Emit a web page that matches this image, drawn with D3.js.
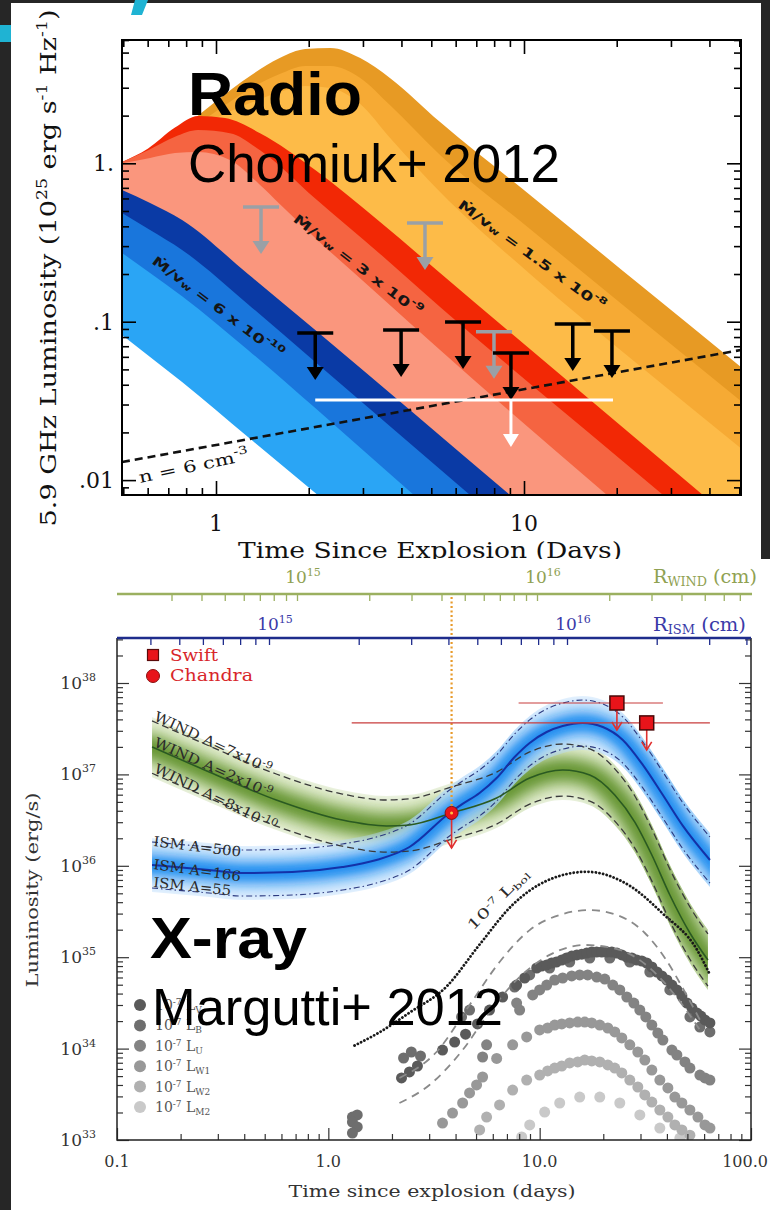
<!DOCTYPE html>
<html>
<head>
<meta charset="utf-8">
<script src="https://cdn.jsdelivr.net/npm/d3@7/dist/d3.min.js"></script>
<style>
html,body{margin:0;padding:0;background:#262626;overflow:hidden;}
svg{display:block;}
</style>
</head>
<body>
<svg id="chart" width="770" height="1210" xmlns="http://www.w3.org/2000/svg"></svg>
<script>
// ======================= DATA =======================
// ---- Radio panel (Chomiuk+ 2012): band boundary curves [days, 1e25 erg/s/Hz]
const radioOrange1 = [[0.495,0.844],[0.764,1.62],[0.993,2.44],[1.29,3.56],[1.61,4.62],[1.95,5.27],[2.35,5.35],[2.94,4.62],[3.67,3.46],[5.34,1.82],[10.46,0.631],[23.8,0.171],[50.6,0.0518]];
const radioOrange2 = [[0.495,0.785],[0.764,1.47],[0.993,2.11],[1.29,2.95],[1.61,3.66],[1.95,4.12],[2.35,4.12],[2.94,3.46],[3.67,2.33],[5.34,1.13],[10.46,0.385],[23.8,0.104],[50.6,0.0316]];
const radioOrange3 = [[0.495,0.730],[0.764,1.36],[0.993,1.91],[1.29,2.40],[1.61,2.82],[1.95,3.08],[2.35,2.99],[2.94,2.37],[3.67,1.45],[5.34,0.659],[10.46,0.200],[23.8,0.0525],[50.6,0.0159]];
const radioRed1 = [[0.495,1.02],[0.602,1.24],[0.736,1.68],[0.874,1.99],[1.07,1.93],[1.39,1.55],[2.10,0.907],[3.41,0.426],[5.34,0.203],[38.1,0.00805],[50.6,0.00506]];
const radioRed2 = [[0.495,1.02],[0.602,1.21],[0.736,1.47],[0.874,1.62],[1.11,1.55],[1.39,1.21],[2.10,0.599],[3.41,0.268],[5.34,0.124],[28.3,0.00805],[50.6,0.00309]];
const radioRed3 = [[0.495,1.00],[0.611,1.08],[0.736,1.16],[0.874,1.18],[1.11,1.05],[1.39,0.730],[1.61,0.554],[2.10,0.338],[3.41,0.145],[5.34,0.0663],[18.6,0.00805],[50.6,0.00156]];
const radioBlue1 = [[0.495,0.678],[0.611,0.562],[0.776,0.439],[1.27,0.200],[2.10,0.0886],[9.01,0.00805],[50.6,0.000473]];
const radioBlue2 = [[0.495,0.486],[0.611,0.379],[0.776,0.284],[1.27,0.129],[2.10,0.0557],[6.68,0.00805],[50.6,0.000289]];
const radioBlue3 = [[0.495,0.272],[0.611,0.203],[0.776,0.145],[1.27,0.0663],[2.10,0.0285],[4.39,0.00805],[50.6,0.000146]];
const radioBlueBase = [[0.495,0.0824],[0.611,0.0598],[0.776,0.0416],[1.27,0.0187],[2.14,0.00805],[50.6,0.0000442]];
const radioColors = ["#e79a24","#f6aa34","#fdbb48","#f22805","#f56441","#fa967d","#0a3aa5","#1976dc","#2aa5f5","#ffffff"];
const radioDensityLine = [[0.495,0.0130],[50.6,0.0663]];
const radioLimitsBlack = [[2.10,0.0849],[3.99,0.0887],[6.34,0.0996],[9.07,0.0634],[14.4,0.0966],[19.3,0.0873]];
const radioLimitsGray = [[1.40,0.530],[4.77,0.420],[7.99,0.0863]];
const radioStackRange = [2.10,19.45];
const radioStackPoint = [9.07,0.032];
const radioYTicks = [1,0.1,0.01];
const radioYTickLabels = ["1.",".1",".01"];
const radioXTicks = [1,10];
const radioXTickLabels = ["1","10"];

// ---- X-ray panel (Margutti+ 2012) [days, erg/s]
const windTimes  = [0.1465,0.273,0.567,1.165,1.883,2.421,3.828,6.256,8.966,12.85,17.26,22.67,28.20,33.95,41.31,51.39,62.55];
const windCenter = [1.995e37,1.062e37,5.25e36,3.17e36,2.73e36,2.80e36,3.78e36,5.52e36,9.13e36,1.117e37,9.85e36,5.95e36,3.01e36,1.313e36,4.79e35,1.84e35,9.32e34];
const windUpper  = [3.85e37,2.05e37,1.01e37,6.1e36,5.25e36,5.4e36,7.3e36,1.06e37,1.76e37,2.15e37,1.9e37,1.15e37,5.8e36,2.53e36,9.2e35,3.55e35,1.8e35];
const windLower  = [1.03e37,5.5e36,2.72e36,1.64e36,1.41e36,1.45e36,1.96e36,2.86e36,4.73e36,5.79e36,5.1e36,3.08e36,1.56e36,6.8e35,2.48e35,9.5e34,4.83e34];
const ismTimes  = [0.1465,0.2729,0.3914,0.6753,1.165,1.689,2.421,3.746,4.316,5.195,6.256,7.611,8.966,10.79,12.85,15.99,19.89,24.74,30.77,38.28,47.62,63.93];
const ismCenter = [1.02e36,8.99e35,8.34e35,8.55e35,9.70e35,1.157e36,1.606e36,3.78e36,4.75e36,6.26e36,9.13e36,1.55e37,2.21e37,2.91e37,3.38e37,3.65e37,3.30e37,2.38e37,1.27e37,5.95e36,2.73e36,1.157e36];
const ismUpper  = [1.821e36,1.605e36,1.489e36,1.526e36,1.731e36,2.065e36,2.867e36,6.747e36,8.479e36,1.117e37,1.630e37,2.767e37,3.945e37,5.194e37,6.033e37,6.515e37,5.891e37,4.248e37,2.267e37,1.062e37,4.873e36,2.065e36];
const ismLower  = [5.71e35,5.04e35,4.67e35,4.79e35,5.43e35,6.48e35,9.0e35,2.12e36,2.66e36,3.51e36,5.11e36,8.68e36,1.24e37,1.63e37,1.89e37,2.04e37,1.85e37,1.33e37,7.11e36,3.33e36,1.53e36,6.48e35];
const lbolCurve = [[1.33,1.08e34],[1.74,1.50e34],[2.42,2.47e34],[3.62,4.76e34],[5.19,1.37e35],[7.45,3.75e35],[10.8,6.86e35],[16.7,8.6e35],[26.7,6.04e35],[38.3,2.99e35],[55.5,1.21e35],[63.9,6.44e34]];
const modelDashUpper = [[2.17,4.77e33],[3.25,9.18e33],[4.66,3.0e34],[6.46,8.86e34],[8.97,1.98e35],[12.44,2.90e35],[17.26,3.28e35],[23.94,2.82e35],[31.45,1.84e35],[39.12,9.8e34],[48.67,4.16e34],[57.33,2.06e34]];
const modelDashLower = [[2.17,2.54e33],[3.01,4.0e33],[4.32,9.65e33],[5.79,2.51e34],[8.04,6.07e34],[11.15,1.06e35],[16.34,1.36e35],[23.94,1.20e35],[33.2,7.62e34],[43.6,3.86e34],[57.33,1.60e34]];
const dotsV = [[2.22,4.77e33],[2.42,5.55e33],[2.64,6.45e33],[3.47,9.65e33],[3.96,1.18e34],[4.46,1.44e34],[5.08,1.86e34],[5.79,2.64e34],[6.68,3.67e34],[7.78,4.96e34],[8.49,5.92e34],[9.68,7.62e34],[10.22,8.01e34],[10.8,8.22e34],[11.4,8.64e34],[12.0,8.86e34],[12.72,9.32e34],[13.4,9.8e34],[14.18,1.03e35],[15.0,1.06e35],[15.82,1.08e35],[16.7,1.11e35],[17.64,1.14e35],[18.6,1.14e35],[19.67,1.14e35],[20.8,1.14e35],[21.94,1.14e35],[23.2,1.11e35],[24.47,1.06e35],[25.8,1.0e35],[27.29,9.8e34],[28.8,9.32e34],[30.44,9.09e34],[32.1,8.64e34],[33.95,7.81e34],[35.9,6.89e34],[37.86,6.23e34],[40.0,5.63e34],[42.23,4.96e34],[44.6,4.38e34],[47.1,3.76e34],[49.8,3.15e34],[52.54,2.78e34],[55.5,2.45e34],[57.94,2.27e34],[60.5,2.06e34],[63.9,1.91e34]];
const dotsB = [[1.30,1.78e33],[1.37,1.88e33],[1.30,1.57e33],[1.37,1.39e33],[1.30,1.19e33],[2.27,7.89e33],[2.47,9.18e33],[2.73,8.30e33],[4.27,2.22e34],[4.66,2.64e34],[7.61,4.72e34],[8.97,6.39e34],[11.15,7.62e34],[13.87,8.86e34],[17.26,9.8e34],[21.47,9.8e34],[26.7,8.86e34],[33.2,6.89e34],[41.3,4.38e34],[51.4,2.22e34],[57.3,1.72e34],[63.9,1.52e34]];
const dotsU = [[5.37,8.09e33],[5.61,1.10e34],[7.78,3.15e34],[8.04,2.64e34],[9.27,3.86e34],[10.0,4.38e34],[10.8,4.96e34],[11.78,5.63e34],[12.85,5.92e34],[14.18,6.23e34],[15.47,6.39e34],[16.88,6.39e34],[18.63,6.07e34],[20.33,5.77e34],[22.18,4.96e34],[23.94,4.38e34],[25.84,3.67e34],[27.9,3.15e34],[29.78,2.64e34],[31.79,2.22e34],[33.95,1.81e34],[36.24,1.48e34],[38.28,1.24e34],[42.23,9.65e33],[44.6,8.51e33],[48.67,7.14e33],[51.4,6.13e33],[57.3,5.14e33],[60.53,4.77e33],[63.9,4.53e33]];
const dotsW1 = [[3.47,1.53e33],[3.87,1.97e33],[4.32,2.54e33],[4.66,3.27e33],[5.03,4.0e33],[5.37,4.89e33],[6.26,7.8e33],[7.45,1.10e34],[8.68,1.34e34],[10.0,1.60e34],[10.91,1.68e34],[11.78,1.81e34],[12.72,1.86e34],[13.87,1.91e34],[15.14,1.95e34],[16.34,1.95e34],[17.64,1.91e34],[19.25,1.81e34],[21.01,1.68e34],[22.67,1.52e34],[24.47,1.31e34],[26.7,1.10e34],[29.14,9.18e33],[31.45,7.5e33],[33.95,5.83e33],[37.04,4.53e33],[40.43,3.71e33],[43.63,2.95e33],[47.1,2.54e33],[51.39,2.13e33],[56.08,1.78e33],[60.53,1.46e33],[63.93,1.35e33]];
const dotsW2 = [[5.20,1.29e33],[5.61,1.78e33],[6.46,2.42e33],[7.45,3.52e33],[8.68,4.53e33],[10.0,5.14e33],[10.91,5.69e33],[11.78,6.13e33],[12.72,6.45e33],[13.87,6.96e33],[15.14,7.14e33],[16.34,7.5e33],[17.64,7.32e33],[19.25,7.14e33],[21.01,6.62e33],[22.67,6.13e33],[24.47,5.41e33],[26.7,4.53e33],[29.14,3.80e33],[31.45,3.11e33],[33.95,2.60e33],[37.04,2.13e33],[40.43,1.78e33],[43.63,1.46e33],[47.1,1.29e33],[51.39,1.13e33]];
const dotsM2 = [[8.22,1.08e33],[8.97,1.46e33],[10.56,2.02e33],[12.44,2.54e33],[15.47,2.95e33],[19.25,2.95e33],[23.94,2.54e33],[29.78,1.88e33],[37.04,1.35e33],[46.08,1.05e33]];
const bandNames = ["V","B","U","W1","W2","M2"];
const bandColors = ["#5a5a5a","#6e6e6e","#838383","#989898","#b0b0b0","#c9c9c9"];
const swiftT = [23.2,32.1];
const swiftL = [6.04e37,3.66e37];
const swiftTRange = [[7.95,38.3],[1.29,63.9]];
const chandraT = [3.83];
const chandraL = [3.79e36];
const xrayYTicks = [1e33,1e34,1e35,1e36,1e37,1e38];
const xrayXTicks = [0.1,1,10,100];
const xrayXTickLabels = ["0.1","1.0","10.0","100.0"];
const radiusTicks = [1e15,1e16];

// ======================= HELPERS =======================
const W = 770, H = 1210;
const SERIF = "'DejaVu Serif','Liberation Serif',serif";
const SANS = "'Liberation Sans',Arial,'DejaVu Sans',sans-serif";
const svg = d3.select('#chart');
const defs = svg.append('defs');

function logTicks(lo, hi) {
  const out = [];
  for (let e = Math.floor(Math.log10(lo)) - 1; e <= Math.ceil(Math.log10(hi)); e++) {
    for (let k = 1; k < 10; k++) {
      const v = +(k * Math.pow(10, e)).toPrecision(6);
      if (v >= lo * 0.9999 && v <= hi * 1.0001) out.push(v);
    }
  }
  return out;
}
const isDecade = v => Math.abs(Math.log10(v) - Math.round(Math.log10(v))) < 1e-6;

function tickAxis(parent, gen, scale, vals, size, tx, ty, color, width) {
  const a = parent.append('g').attr('transform', `translate(${tx},${ty})`)
    .call(gen(scale).tickValues(vals).tickSize(size).tickSizeOuter(0).tickFormat(() => ''));
  a.select('.domain').remove();
  a.selectAll('.tick text').remove();
  a.selectAll('.tick line').attr('stroke', color).attr('stroke-width', width);
  return a;
}

function rich(parent, parts, o) {
  const t = parent.append('text')
    .attr('font-family', o.family || SERIF)
    .attr('font-size', o.size)
    .attr('fill', o.fill || '#000');
  if (o.weight) t.attr('font-weight', o.weight);
  if (o.anchor) t.attr('text-anchor', o.anchor);
  if (o.transform) t.attr('transform', o.transform); else t.attr('x', o.x).attr('y', o.y);
  if (o.len) t.attr('textLength', o.len).attr('lengthAdjust', 'spacingAndGlyphs');
  if (o.baseline) t.attr('dominant-baseline', o.baseline);
  let cur = 0;
  parts.forEach(p => {
    const off = p[1] || 0;
    const ts = t.append('tspan').text(p[0]);
    if (off !== cur) ts.attr('dy', off - cur);
    if (p[2]) ts.attr('font-size', p[2]);
    cur = off;
  });
  return t;
}

function addBlur(id, sd) {
  defs.append('filter').attr('id', id).attr('filterUnits', 'userSpaceOnUse')
    .attr('x', 0).attr('y', 0).attr('width', W).attr('height', H)
    .append('feGaussianBlur').attr('stdDeviation', sd);
}
addBlur('blur5', 5); addBlur('blur6', 6); addBlur('blur7', 7); addBlur('blur9', 9); addBlur('blur10', 10);

// ======================= BACKGROUND =======================
svg.append('rect').attr('width', W).attr('height', H).attr('fill', '#262626');
svg.append('rect').attr('x', 11).attr('y', 3).attr('width', 750).attr('height', 560).attr('fill', '#ffffff');
svg.append('rect').attr('x', 0).attr('y', 25).attr('width', 11).attr('height', 17).attr('fill', '#1fb3d3');
svg.append('path').attr('d', 'M135,0L148,0L142,15L131,15Z').attr('fill', '#1fb3d3');

// ======================= RADIO =======================
const R = {l: 122, t: 40, r: 741, b: 495};
const xR = d3.scaleLog().domain([1, 10]).range([216, 524]);
const yR = d3.scaleLog().domain([1, 0.1]).range([163.3, 321.7]);
defs.append('clipPath').attr('id', 'clipR').append('rect')
  .attr('x', R.l).attr('y', R.t).attr('width', R.r - R.l).attr('height', R.b - R.t);
const gR = svg.append('g');
const gRc = gR.append('g').attr('clip-path', 'url(#clipR)');
const radioCurves = [radioOrange1, radioOrange2, radioOrange3, radioRed1, radioRed2, radioRed3, radioBlue1, radioBlue2, radioBlue3, radioBlueBase];
const radioArea = d3.area().x(d => xR(d[0])).y0(R.b).y1(d => yR(d[1])).curve(d3.curveMonotoneX);
radioCurves.forEach((c, i) => gRc.append('path').attr('d', radioArea(c)).attr('fill', radioColors[i]));

gRc.append('path')
  .attr('d', d3.line().x(d => xR(d[0])).y(d => yR(d[1]))(radioDensityLine))
  .attr('fill', 'none').attr('stroke', '#111').attr('stroke-width', 2.6).attr('stroke-dasharray', '8,5');

function limitArrow(g, x, y, color, len, w) {
  g.append('line').attr('x1', x - 18).attr('x2', x + 18).attr('y1', y).attr('y2', y)
    .attr('stroke', color).attr('stroke-width', w);
  g.append('line').attr('x1', x).attr('x2', x).attr('y1', y).attr('y2', y + len - 11)
    .attr('stroke', color).attr('stroke-width', w);
  g.append('path').attr('d', `M${x - 8.5},${y + len - 13}L${x + 8.5},${y + len - 13}L${x},${y + len}Z`).attr('fill', color);
}
radioLimitsGray.forEach(d => limitArrow(gR, xR(d[0]), yR(d[1]), '#9aa0a6', 47, 3.5));
radioLimitsBlack.forEach(d => limitArrow(gR, xR(d[0]), yR(d[1]), '#000', 47, 3.5));
{
  const ys = yR(radioStackPoint[1]), xs = xR(radioStackPoint[0]);
  gR.append('line').attr('x1', xR(radioStackRange[0])).attr('x2', xR(radioStackRange[1]))
    .attr('y1', ys).attr('y2', ys).attr('stroke', '#fff').attr('stroke-width', 3);
  gR.append('line').attr('x1', xs).attr('x2', xs).attr('y1', ys).attr('y2', ys + 36)
    .attr('stroke', '#fff').attr('stroke-width', 3);
  gR.append('path').attr('d', `M${xs - 8},${ys + 34}L${xs + 8},${ys + 34}L${xs},${ys + 47}Z`).attr('fill', '#fff');
}

const mdotOpts = {family: "'DejaVu Sans',sans-serif", size: 13, weight: 'bold', fill: '#151515', anchor: 'middle', baseline: 'central'};
rich(gR, [["Ṁ/v"], ["w", 3, 9], [" = 6 x 10", 0], ["-10", -5, 9]], Object.assign({}, mdotOpts, {transform: 'translate(218,307) rotate(37)', len: 160}));
rich(gR, [["Ṁ/v"], ["w", 3, 9], [" = 3 x 10", 0], ["-9", -5, 9]], Object.assign({}, mdotOpts, {transform: 'translate(358,265) rotate(37.5)', len: 158}));
rich(gR, [["Ṁ/v"], ["w", 3, 9], [" = 1.5 x 10", 0], ["-8", -5, 9]], Object.assign({}, mdotOpts, {transform: 'translate(532,255) rotate(36)', len: 178}));
rich(gR, [["n = 6 cm"], ["-3", -7, 11]], {size: 16, fill: '#111', transform: 'translate(140,483) rotate(-12)', len: 112});

const rY = logTicks(yR.invert(R.b), yR.invert(R.t));
const rX = logTicks(xR.invert(R.l), xR.invert(R.r));
const rYmaj = rY.filter(isDecade), rYmin = rY.filter(v => !isDecade(v));
const rXmaj = rX.filter(isDecade), rXmin = rX.filter(v => !isDecade(v));
tickAxis(gR, d3.axisLeft, yR, rYmin, -7, R.l, 0, '#000', 1.6);
tickAxis(gR, d3.axisLeft, yR, rYmaj, -14, R.l, 0, '#000', 1.6);
tickAxis(gR, d3.axisRight, yR, rYmin, -7, R.r, 0, '#000', 1.6);
tickAxis(gR, d3.axisRight, yR, rYmaj, -14, R.r, 0, '#000', 1.6);
tickAxis(gR, d3.axisBottom, xR, rXmin, -7, 0, R.b, '#000', 1.6);
tickAxis(gR, d3.axisBottom, xR, rXmaj, -14, 0, R.b, '#000', 1.6);
tickAxis(gR, d3.axisTop, xR, rXmin, -7, 0, R.t, '#000', 1.6);
tickAxis(gR, d3.axisTop, xR, rXmaj, -14, 0, R.t, '#000', 1.6);
gR.append('rect').attr('x', R.l).attr('y', R.t).attr('width', R.r - R.l).attr('height', R.b - R.t)
  .attr('fill', 'none').attr('stroke', '#000').attr('stroke-width', 2);

radioYTicks.forEach((v, i) => gR.append('text').attr('x', 114).attr('y', yR(v) + 8)
  .attr('text-anchor', 'end').attr('font-family', SERIF).attr('font-size', 22).attr('fill', '#111').text(radioYTickLabels[i]));
radioXTicks.forEach((v, i) => gR.append('text').attr('x', xR(v)).attr('y', 531)
  .attr('text-anchor', 'middle').attr('font-family', SERIF).attr('font-size', 22).attr('fill', '#111').text(radioXTickLabels[i]));
rich(gR, [["5.9 GHz Luminosity (10"], ["25", -9, 14], [" erg s", 0], ["-1", -9, 14], [" Hz", 0], ["-1", -9, 14], [")", 0]],
  {size: 22, fill: '#111', anchor: 'middle', transform: 'translate(56,268) rotate(-90)', len: 517});
gR.append('text').attr('x', 430).attr('y', 558).attr('text-anchor', 'middle').attr('font-family', SERIF)
  .attr('font-size', 22).attr('fill', '#111').attr('textLength', 384).attr('lengthAdjust', 'spacingAndGlyphs')
  .text('Time Since Explosion (Days)');

gR.append('text').attr('x', 188).attr('y', 115).attr('font-family', SANS).attr('font-weight', 'bold')
  .attr('font-size', 61).attr('textLength', 174).attr('lengthAdjust', 'spacingAndGlyphs').attr('fill', '#000').text('Radio');
gR.append('text').attr('x', 188).attr('y', 182).attr('font-family', SANS)
  .attr('font-size', 53).attr('textLength', 372).attr('lengthAdjust', 'spacingAndGlyphs').attr('fill', '#000').text('Chomiuk+ 2012');

// ======================= X-RAY =======================
svg.append('rect').attr('x', 11).attr('y', 559).attr('width', 759).attr('height', 651).attr('fill', '#ffffff');
const X = {l: 117, t: 638, r: 751, b: 1140};
const xX = d3.scaleLog().domain([0.1, 100]).range([117, 751]);
const yX = d3.scaleLog().domain([1e33, 1e38]).range([1140, 683]);
const rWind = d3.scaleLog().domain([1e15, 1e16]).range([297, 537]);
const rIsm = d3.scaleLog().domain([1e15, 1e16]).range([269, 567]);
defs.append('clipPath').attr('id', 'clipX').append('rect')
  .attr('x', X.l).attr('y', X.t).attr('width', X.r - X.l).attr('height', X.b - X.t);
const gX = svg.append('g');
const gXc = gX.append('g').attr('clip-path', 'url(#clipX)');

function lineX(times, vals) {
  return d3.line().x((d, i) => xX(times[i])).y((d, i) => yX(vals[i])).curve(d3.curveMonotoneX)(times);
}
function glowBand(id, times, center, upper, lower, layers) {
  const area = d3.area().x((d, i) => xX(times[i]))
    .y0((d, i) => yX(lower[i]) + 4).y1((d, i) => yX(upper[i]) - 4).curve(d3.curveMonotoneX);
  defs.append('clipPath').attr('id', id).append('path').attr('d', area(times));
  const d = lineX(times, center);
  const n = times.length;
  const x0 = xX(times[0]), y0 = yX(center[0]);
  const x1 = xX(times[n - 1]), y1 = yX(center[n - 1]);
  const xp = xX(times[n - 2]), yp = yX(center[n - 2]);
  const dl = Math.hypot(x1 - xp, y1 - yp);
  const ex = x1 + (x1 - xp) / dl * 40, ey = y1 + (y1 - yp) / dl * 40;
  const path = `M${x0 - 40},${y0}L${d.slice(1)}L${ex},${ey}`;
  const g = gXc.append('g').attr('clip-path', `url(#${id})`);
  layers.forEach(L => g.append('path').attr('d', path).attr('fill', 'none')
    .attr('stroke', L.color).attr('stroke-width', L.w).attr('filter', `url(#${L.f})`));
}
glowBand('clipWind', windTimes, windCenter, windUpper, windLower,
  [{color: '#cfe0b2', w: 54, f: 'blur10'}, {color: '#62932f', w: 22, f: 'blur7'}]);
glowBand('clipIsm', ismTimes, ismCenter, ismUpper, ismLower,
  [{color: '#b3d8fb', w: 48, f: 'blur9'}, {color: '#1689ef', w: 18, f: 'blur6'}]);

const dotSets = [dotsM2, dotsW2, dotsW1, dotsU, dotsB, dotsV];
const dotCols = [bandColors[5], bandColors[4], bandColors[3], bandColors[2], bandColors[1], bandColors[0]];
dotSets.forEach((s, k) => gXc.append('g').selectAll('circle').data(s).join('circle')
  .attr('cx', d => xX(d[0])).attr('cy', d => yX(d[1])).attr('r', 5.5).attr('fill', dotCols[k]));

const lineP = d3.line().x(d => xX(d[0])).y(d => yX(d[1])).curve(d3.curveMonotoneX);
[modelDashUpper, modelDashLower].forEach(c => gXc.append('path').attr('d', lineP(c)).attr('fill', 'none')
  .attr('stroke', '#8a8a8a').attr('stroke-width', 1.8).attr('stroke-dasharray', '8,6'));
gXc.append('path').attr('d', lineP(lbolCurve)).attr('fill', 'none').attr('stroke', '#1a1a1a')
  .attr('stroke-width', 2.8).attr('stroke-linecap', 'round').attr('stroke-dasharray', '0.1,3.6');

[windUpper, windLower].forEach(v => gXc.append('path').attr('d', lineX(windTimes, v)).attr('fill', 'none')
  .attr('stroke', '#3a3a3a').attr('stroke-width', 1.3).attr('stroke-dasharray', '7,4'));
[ismUpper, ismLower].forEach(v => gXc.append('path').attr('d', lineX(ismTimes, v)).attr('fill', 'none')
  .attr('stroke', '#2c3a80').attr('stroke-width', 1.1).attr('stroke-dasharray', '6,3,1.5,3'));
gXc.append('path').attr('d', lineX(windTimes, windCenter)).attr('fill', 'none').attr('stroke', '#2a5a22').attr('stroke-width', 1.6);
gXc.append('path').attr('d', lineX(ismTimes, ismCenter)).attr('fill', 'none').attr('stroke', '#1432a8').attr('stroke-width', 2);

const lblO = {size: 14, fill: '#2b2b2b'};
rich(gX, [["WIND A=7x10"], ["-9", -5, 10]], Object.assign({}, lblO, {transform: 'translate(153,720) rotate(25)', len: 128}));
rich(gX, [["WIND A=2x10"], ["-9", -5, 10]], Object.assign({}, lblO, {transform: 'translate(153,746) rotate(24)', len: 128}));
rich(gX, [["WIND A=8x10"], ["-10", -5, 10]], Object.assign({}, lblO, {transform: 'translate(153,772) rotate(26)', len: 135}));
rich(gX, [["ISM A=500"]], Object.assign({}, lblO, {transform: 'translate(153,846) rotate(7)', len: 88}));
rich(gX, [["ISM A=166"]], Object.assign({}, lblO, {transform: 'translate(153,869) rotate(8)', len: 88}));
rich(gX, [["ISM A=55"]], Object.assign({}, lblO, {transform: 'translate(153,887) rotate(6)', len: 78}));
rich(gX, [["10"], ["-7", -5, 9], [" L", 0], ["bol", 3, 9]], {size: 14, fill: '#2b2b2b', transform: 'translate(473,931) rotate(-45)', len: 80});

gX.append('line').attr('x1', xX(chandraT[0])).attr('x2', xX(chandraT[0])).attr('y1', 597).attr('y2', yX(chandraL[0]) - 6)
  .attr('stroke', '#e89a2a').attr('stroke-width', 2.2).attr('stroke-dasharray', '2,2.5');

function redArrow(x, y0, y1) {
  gX.append('line').attr('x1', x).attr('x2', x).attr('y1', y0).attr('y2', y1).attr('stroke', '#e0302f').attr('stroke-width', 1.6);
  gX.append('path').attr('d', `M${x - 5},${y1 - 8}L${x},${y1}L${x + 5},${y1 - 8}`).attr('fill', 'none')
    .attr('stroke', '#e0302f').attr('stroke-width', 1.6);
}
swiftT.forEach((t, i) => {
  const y = yX(swiftL[i]);
  gX.append('line').attr('x1', xX(swiftTRange[i][0])).attr('x2', xX(swiftTRange[i][1])).attr('y1', y).attr('y2', y)
    .attr('stroke', '#c83c3c').attr('stroke-width', 1.2);
  redArrow(xX(t), y, y + 27);
});
swiftT.forEach((t, i) => {
  const x = xX(t), y = yX(swiftL[i]);
  gX.append('rect').attr('x', x - 7).attr('y', y - 7).attr('width', 14).attr('height', 14)
    .attr('fill', '#e8141a').attr('stroke', '#4a0808').attr('stroke-width', 1.5);
});
chandraT.forEach((t, i) => {
  const x = xX(t), y = yX(chandraL[i]);
  redArrow(x, y, y + 35);
  gX.append('circle').attr('cx', x).attr('cy', y).attr('r', 6.5).attr('fill', '#e8141a').attr('stroke', '#8a1010').attr('stroke-width', 1);
  gX.append('circle').attr('cx', x).attr('cy', y).attr('r', 1.5).attr('fill', '#ffc040');
});

gX.append('rect').attr('x', 147.5).attr('y', 649.5).attr('width', 11).attr('height', 11)
  .attr('fill', '#e8141a').attr('stroke', '#5a0a0a').attr('stroke-width', 1.2);
gX.append('circle').attr('cx', 153).attr('cy', 676).attr('r', 6.5).attr('fill', '#e8141a').attr('stroke', '#8a1010').attr('stroke-width', 1);
gX.append('text').attr('x', 170).attr('y', 661).attr('font-family', SERIF).attr('font-size', 16).attr('fill', '#d8262b')
  .attr('textLength', 48).attr('lengthAdjust', 'spacingAndGlyphs').text('Swift');
gX.append('text').attr('x', 170).attr('y', 681).attr('font-family', SERIF).attr('font-size', 16).attr('fill', '#d8262b')
  .attr('textLength', 83).attr('lengthAdjust', 'spacingAndGlyphs').text('Chandra');
bandNames.forEach((b, i) => {
  const y = 1005 + i * 20.4;
  gX.append('circle').attr('cx', 140).attr('cy', y).attr('r', 6).attr('fill', bandColors[i]);
  rich(gX, [["10"], ["-7", -5, 9], [" L", 0], [b, 3, 9]], {size: 14, fill: '#555', x: 155, y: y + 5});
});

const xYv = logTicks(1e33, yX.invert(X.t));
const xXv = logTicks(0.1, 100);
tickAxis(gX, d3.axisLeft, yX, xYv.filter(v => !isDecade(v)), -6, X.l, 0, '#333', 1.2);
tickAxis(gX, d3.axisLeft, yX, xYv.filter(isDecade), -12, X.l, 0, '#333', 1.2);
tickAxis(gX, d3.axisRight, yX, xYv.filter(v => !isDecade(v)), -6, X.r, 0, '#333', 1.2);
tickAxis(gX, d3.axisRight, yX, xYv.filter(isDecade), -12, X.r, 0, '#333', 1.2);
tickAxis(gX, d3.axisBottom, xX, xXv.filter(v => !isDecade(v)), -6, 0, X.b, '#333', 1.2);
tickAxis(gX, d3.axisBottom, xX, xXv.filter(isDecade), -12, 0, X.b, '#333', 1.2);
gX.append('path').attr('d', `M${X.l},${X.t}L${X.l},${X.b}L${X.r},${X.b}L${X.r},${X.t}`)
  .attr('fill', 'none').attr('stroke', '#222').attr('stroke-width', 1.5);
const windV = logTicks(3e14, 7e16), ismV = logTicks(4e14, 4e16);
tickAxis(gX, d3.axisBottom, rIsm, ismV, 7, 0, X.t, '#1e2c8c', 1.3);
gX.append('line').attr('x1', X.l).attr('x2', X.r).attr('y1', X.t).attr('y2', X.t).attr('stroke', '#1e2c8c').attr('stroke-width', 2.5);
tickAxis(gX, d3.axisBottom, rWind, windV, 7, 0, 594, '#9bb060', 1.3);
gX.append('line').attr('x1', X.l).attr('x2', 752).attr('y1', 594).attr('y2', 594).attr('stroke', '#9bb060').attr('stroke-width', 2.5);
radiusTicks.forEach(v => {
  rich(gX, [["10"], [String(Math.round(Math.log10(v))), -7, 11]], {size: 17, fill: '#8fa152', anchor: 'middle', x: rWind(v) + 6, y: 583});
  rich(gX, [["10"], [String(Math.round(Math.log10(v))), -7, 11]], {size: 17, fill: '#3a3aa8', anchor: 'middle', x: rIsm(v) + 6, y: 630});
});
rich(gX, [["R"], ["WIND", 3, 12], [" (cm)", 0]], {size: 18, fill: '#8fa152', anchor: 'end', x: 757, y: 583, len: 104});
rich(gX, [["R"], ["ISM", 3, 12], [" (cm)", 0]], {size: 18, fill: '#3a3aa8', anchor: 'end', x: 746, y: 631, len: 93});

xrayYTicks.forEach(v => rich(gX, [["10"], [String(Math.round(Math.log10(v))), -8, 11]],
  {size: 17, fill: '#333', anchor: 'end', x: 96, y: yX(v) + 6}));
xrayXTicks.forEach((v, i) => {
  const t = gX.append('text').attr('x', xX(v)).attr('y', 1167).attr('text-anchor', 'middle')
    .attr('font-family', SERIF).attr('font-size', 16).attr('fill', '#333').text(xrayXTickLabels[i]);
  const w = t.node().getComputedTextLength();
  if (xX(v) + w / 2 > 768) t.attr('text-anchor', 'end').attr('x', 768);
});
gX.append('text').attr('x', 432).attr('y', 1197).attr('text-anchor', 'middle').attr('font-family', SERIF)
  .attr('font-size', 16).attr('fill', '#333').attr('textLength', 287).attr('lengthAdjust', 'spacingAndGlyphs')
  .text('Time since explosion (days)');
gX.append('text').attr('transform', 'translate(38,890) rotate(-90)').attr('text-anchor', 'middle').attr('font-family', SERIF)
  .attr('font-size', 16).attr('fill', '#333').attr('textLength', 195).attr('lengthAdjust', 'spacingAndGlyphs')
  .text('Luminosity (erg/s)');

gX.append('text').attr('x', 150).attr('y', 958).attr('font-family', SANS).attr('font-weight', 'bold')
  .attr('font-size', 58).attr('textLength', 157).attr('lengthAdjust', 'spacingAndGlyphs').attr('fill', '#000').text('X-ray');
gX.append('text').attr('x', 152).attr('y', 1025).attr('font-family', SANS)
  .attr('font-size', 52).attr('textLength', 351).attr('lengthAdjust', 'spacingAndGlyphs').attr('fill', '#000').text('Margutti+ 2012');
</script>
</body>
</html>
